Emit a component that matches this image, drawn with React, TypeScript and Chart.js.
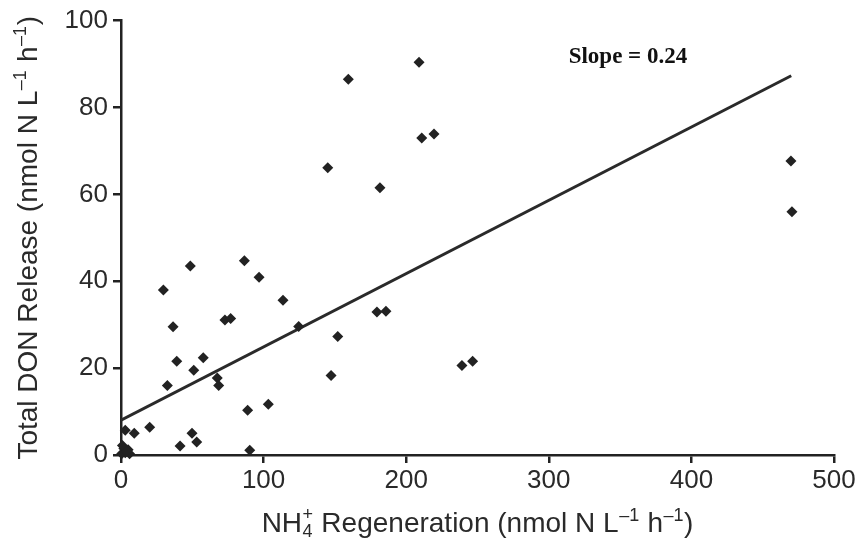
import React, { useEffect, useRef } from "react";
import { Chart, registerables } from "chart.js";

Chart.register(...registerables);

// ---- data ----
const xTicks = [0, 100, 200, 300, 400, 500];
const yTicks = [0, 20, 40, 60, 80, 100];

const nh4Regeneration = [
  0.5, 2, 3, 5, 6, 1, 4,
  3.0, 9.3, 20.1, 41.4, 49.8, 53.1, 90.3, 88.8, 103.3,
  32.5, 39.1, 51.0, 57.7, 67.5, 68.5, 36.5, 72.9, 76.9,
  29.7, 48.6, 86.5, 96.8, 113.6, 124.6,
  145.0, 147.3, 152.0, 159.4, 179.5, 181.6, 185.8,
  209.0, 210.9, 219.5, 239.1, 246.6, 469.8, 470.5,
];
const donRelease = [
  0.3, 1.5, 0.5, 1.2, 0.3, 2.2, 0.8,
  5.7, 5.0, 6.4, 2.1, 5.0, 3.0, 1.1, 10.3, 11.7,
  16.0, 21.6, 19.5, 22.4, 17.7, 16.0, 29.5, 31.1, 31.4,
  38.0, 43.5, 44.7, 40.9, 35.6, 29.6,
  66.1, 18.3, 27.3, 86.5, 32.9, 61.5, 33.1,
  90.4, 73.0, 73.9, 20.6, 21.6, 67.7, 56.0,
];

const fitX = [0, 470];
const fitY = [8.0, 87.3];

const slopeLabel = "Slope = 0.24";
const slopeLabelAt = [355.5, 91.7];

// rich-text axis titles: [text, mode]  mode: n = normal, sup, sub, stack (sub|sup)
type Seg = [string, string];
const xTitleSegs: Seg[] = [
  ["NH", "n"],
  ["4|+", "stack"],
  [" Regeneration (nmol N L", "n"],
  ["\u20131", "sup"],
  [" h", "n"],
  ["\u20131", "sup"],
  [")", "n"],
];
const yTitleSegs: Seg[] = [
  ["Total DON Release (nmol N L", "n"],
  ["\u20131", "sup"],
  [" h", "n"],
  ["\u20131", "sup"],
  [")", "n"],
];

const INK = "#222222";
const TEXT = "#2a2a2a";
const SANS = '"Liberation Sans", Arial, Helvetica, sans-serif';
const TITLE_SIZE = 28;
const SMALL_SIZE = 18;

function segWidth(ctx: CanvasRenderingContext2D, seg: Seg): number {
  const [t, m] = seg;
  if (m === "n") {
    ctx.font = `${TITLE_SIZE}px ${SANS}`;
    return ctx.measureText(t).width;
  }
  ctx.font = `${SMALL_SIZE}px ${SANS}`;
  if (m === "stack") {
    const [a, b] = t.split("|");
    return Math.max(ctx.measureText(a).width, ctx.measureText(b).width) + 1;
  }
  return ctx.measureText(t).width + 1;
}

function drawRich(ctx: CanvasRenderingContext2D, segs: Seg[], cx: number, baseline: number) {
  const total = segs.reduce((s, g) => s + segWidth(ctx, g), 0);
  let x = cx - total / 2;
  ctx.textBaseline = "alphabetic";
  ctx.textAlign = "left";
  ctx.fillStyle = TEXT;
  for (const seg of segs) {
    const [t, m] = seg;
    const w = segWidth(ctx, seg);
    if (m === "n") {
      ctx.font = `${TITLE_SIZE}px ${SANS}`;
      ctx.fillText(t, x, baseline);
    } else if (m === "sup") {
      ctx.font = `${SMALL_SIZE}px ${SANS}`;
      ctx.fillText(t, x + 0.5, baseline - 11);
    } else if (m === "sub") {
      ctx.font = `${SMALL_SIZE}px ${SANS}`;
      ctx.fillText(t, x + 0.5, baseline + 5);
    } else {
      const [a, b] = t.split("|");
      ctx.font = `${SMALL_SIZE}px ${SANS}`;
      ctx.fillText(a, x + 0.5, baseline + 5);
      ctx.fillText(b, x + 0.5, baseline - 12);
    }
    x += w;
  }
}

export default function App() {
  const ref = useRef<HTMLCanvasElement | null>(null);

  useEffect(() => {
    const canvas = ref.current;
    if (!canvas) return;

    const annotations = {
      id: "annotations",
      afterDraw(chart: any) {
        const { ctx, scales, chartArea } = chart;
        ctx.save();
        ctx.font = 'bold 23px "Liberation Serif", "Times New Roman", serif';
        ctx.fillStyle = "#111111";
        ctx.textAlign = "center";
        ctx.textBaseline = "middle";
        ctx.fillText(
          slopeLabel,
          scales.x.getPixelForValue(slopeLabelAt[0]),
          scales.y.getPixelForValue(slopeLabelAt[1])
        );
        ctx.restore();

        // x-axis title
        ctx.save();
        drawRich(ctx, xTitleSegs, (chartArea.left + chartArea.right) / 2, scales.x.bottom - 16);
        ctx.restore();

        // y-axis title (rotated)
        ctx.save();
        ctx.translate(scales.y.left + 37, (chartArea.top + chartArea.bottom) / 2);
        ctx.rotate(-Math.PI / 2);
        drawRich(ctx, yTitleSegs, 0, 0);
        ctx.restore();
      },
    };

    const chart = new Chart(canvas, {
      type: "scatter",
      data: {
        datasets: [
          {
            type: "scatter",
            label: "Samples",
            data: nh4Regeneration.map((x, i) => ({ x, y: donRelease[i] })),
            pointStyle: "rectRot",
            pointRadius: 5.5,
            pointBackgroundColor: INK,
            pointBorderColor: INK,
            pointBorderWidth: 0,
            clip: false as any,
          },
          {
            type: "line",
            label: "Fit",
            data: fitX.map((x, i) => ({ x, y: fitY[i] })),
            borderColor: "#2a2a2a",
            borderWidth: 3,
            pointRadius: 0,
            fill: false,
          } as any,
        ],
      },
      options: {
        responsive: false,
        animation: false,
        layout: { padding: { left: 0, right: 32, top: 19, bottom: 0 } },
        plugins: {
          legend: { display: false },
          tooltip: { enabled: false },
        },
        scales: {
          x: {
            type: "linear",
            min: 0,
            max: 500,
            afterBuildTicks: (s: any) => {
              s.ticks = xTicks.map((v) => ({ value: v }));
            },
            afterFit: (s: any) => {
              s.height = 93;
            },
            border: { display: true, color: INK, width: 2.5 },
            grid: {
              display: true,
              drawOnChartArea: false,
              drawTicks: true,
              tickLength: 8,
              color: INK,
              lineWidth: 2.5,
            },
            ticks: {
              color: TEXT,
              font: { family: SANS, size: 26 },
              padding: 2,
              maxRotation: 0,
            },
            title: { display: false },
          },
          y: {
            type: "linear",
            min: 0,
            max: 100,
            afterBuildTicks: (s: any) => {
              s.ticks = yTicks.map((v) => ({ value: v }));
            },
            afterFit: (s: any) => {
              s.width = 121;
            },
            border: { display: true, color: INK, width: 2.5 },
            grid: {
              display: true,
              drawOnChartArea: false,
              drawTicks: true,
              tickLength: 8,
              color: INK,
              lineWidth: 2.5,
            },
            ticks: {
              color: TEXT,
              font: { family: SANS, size: 26 },
              padding: 5,
            },
            title: { display: false },
          },
        },
      },
      plugins: [annotations],
    });

    return () => chart.destroy();
  }, []);

  return (
    <div style={{ position: "absolute", left: 0, top: 0, width: 866, height: 548, background: "#ffffff" }}>
      <canvas ref={ref} width={866} height={548} style={{ display: "block" }} />
    </div>
  );
}
